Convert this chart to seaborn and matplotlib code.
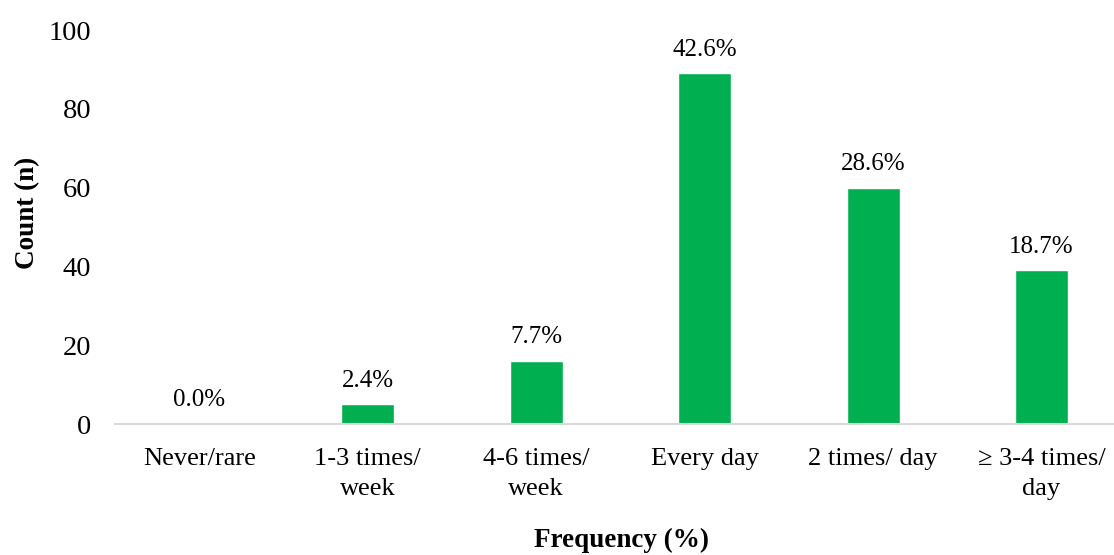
import matplotlib
matplotlib.use("Agg")
import matplotlib.pyplot as plt
import seaborn as sns
import pandas as pd

# Data
categories = ["Never/rare", "1-3 times/\nweek", "4-6 times/\nweek", "Every day",
              "2 times/ day", "\u2265 3-4 times/\nday"]
counts = [0, 5, 16, 89, 60, 39]
percent_labels = ["0.0%", "2.4%", "7.7%", "42.6%", "28.6%", "18.7%"]
y_ticks = [0, 20, 40, 60, 80, 100]

sns.set_theme(style="white")
plt.rcParams["font.family"] = ["Liberation Serif", "DejaVu Serif"]
plt.rcParams["text.color"] = "black"
plt.rcParams["axes.labelcolor"] = "black"

df = pd.DataFrame({"Frequency": categories, "Count": counts})

fig = plt.figure(figsize=(11.14, 5.55), dpi=100)
ax = fig.add_axes([115 / 1114, 1 - 424 / 555, 999 / 1114, 394 / 555])

sns.barplot(data=df, x="Frequency", y="Count", color="#00b050", width=0.315,
            saturation=1, ax=ax)

ax.set_xlim(-0.5, 5.43)
ax.set_ylim(0, 100)
ax.set_yticks(y_ticks)
ax.tick_params(axis="both", length=0, colors="black")
ax.tick_params(axis="x", pad=17, labelsize=19)
ax.tick_params(axis="y", pad=17, labelsize=20.5)
for lbl in ax.get_xticklabels():
    lbl.set_linespacing(1.5)

for side in ["top", "right", "left"]:
    ax.spines[side].set_visible(False)
ax.spines["bottom"].set_color("#d9d9d9")
ax.spines["bottom"].set_linewidth(1.5)

for i, (c, lab) in enumerate(zip(counts, percent_labels)):
    ax.annotate(lab, xy=(i, c), xytext=(0, 9), textcoords="offset points",
                ha="center", va="bottom", fontsize=18, color="black")

ax.set_xlabel("Frequency (%)", fontsize=19.5, fontweight="bold", va="center",
              color="black")
ax.set_ylabel("Count (n)", fontsize=19.5, fontweight="bold", va="center",
              color="black")
ax.xaxis.set_label_coords((621 - 115) / 999, -(540 - 424) / 394)
ax.yaxis.set_label_coords(-(115 - 28) / 999, (424 - 213) / 394)

fig.savefig("out.png", dpi=100)
